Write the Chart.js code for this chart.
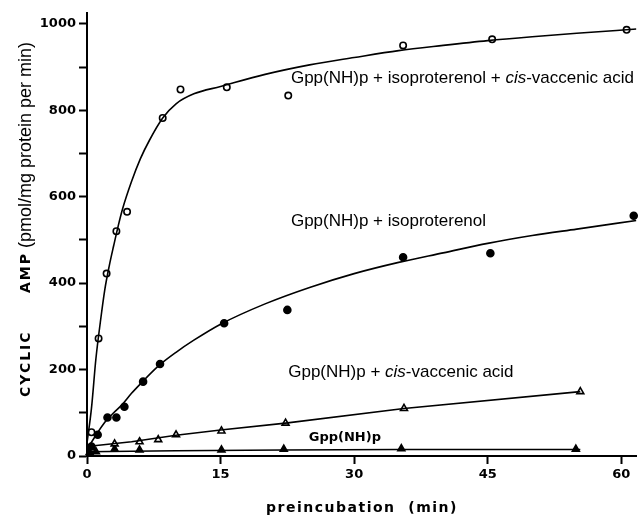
<!DOCTYPE html>
<html><head><meta charset="utf-8">
<script src="https://cdn.jsdelivr.net/npm/chart.js@4.4.1/dist/chart.umd.min.js"></script>
<style>html,body{margin:0;padding:0;background:#fff;}canvas{display:block;}</style>
</head><body>
<canvas id="c" width="642" height="520"></canvas>
<script>
// ---- axis ticks ----
const xTicks = [0, 15, 30, 45, 60];
const yTicks = [0, 100, 200, 300, 400, 500, 600, 700, 800, 900, 1000];
const yLabelEvery = 200;

// ---- measured points ----
// Gpp(NH)p + isoproterenol + cis-vaccenic acid (open circles)
const isoCisTime  = [0.5, 1.3, 2.2, 3.3, 4.5, 8.5, 10.5, 15.7, 22.6, 35.5, 45.5, 60.6];
const isoCisValue = [55, 272, 422, 520, 565, 782, 848, 853, 834, 950, 964, 986];
// Gpp(NH)p + isoproterenol (filled circles)
const isoTime  = [0.5, 1.2, 2.3, 3.3, 4.2, 6.3, 8.2, 15.4, 22.5, 35.5, 45.3, 61.4];
const isoValue = [22, 49, 89, 89, 114, 172, 213, 307, 338, 460, 469, 556];
// Gpp(NH)p + cis-vaccenic acid (open triangles)
const cisTime  = [0.5, 3.1, 5.9, 8.0, 10.0, 15.1, 22.3, 35.6, 55.4];
const cisValue = [20, 28, 33, 38, 49, 58, 76, 110, 149];
// Gpp(NH)p (filled triangles)
const gppTime  = [0.3, 1.0, 3.1, 5.9, 15.1, 22.1, 35.3, 54.9];
const gppValue = [8, 10, 16, 14, 14, 16, 17, 16];

// ---- hand-drawn fitted curves ----
const isoCisCurveTime  = [0, 0.5, 1, 1.5, 2, 2.5, 3, 3.5, 4, 5, 6, 7, 8.5, 10, 12, 15, 20, 25, 30, 35, 40, 45, 50, 55, 61.7];
const isoCisCurveValue = [30, 110, 225, 310, 385, 440, 487, 532, 572, 635, 688, 730, 782, 815, 838, 855, 883, 905, 922, 938, 950, 961, 970, 978, 988];
const isoCurveTime  = [0, 1, 2, 3, 4, 5, 6, 8, 10, 12, 15, 20, 25, 30, 35, 40, 45, 50, 55, 61.7];
const isoCurveValue = [15, 48, 78, 100, 120, 145, 167, 208, 240, 268, 305, 352, 390, 422, 448, 470, 492, 510, 525, 545];
const cisCurveTime  = [0, 5, 10, 15, 22.3, 35.6, 55.4];
const cisCurveValue = [22, 33, 48, 60, 76, 110, 149];
const gppCurveTime  = [0, 10, 22, 35, 55.4];
const gppCurveValue = [10, 12, 14, 15, 15];

// ---- text ----
const annotationTexts = [
  [['Gpp(NH)p + isoproterenol + ', 'normal'], ['cis', 'italic'], ['-vaccenic acid', 'normal']],
  [['Gpp(NH)p + isoproterenol', 'normal']],
  [['Gpp(NH)p + ', 'normal'], ['cis', 'italic'], ['-vaccenic acid', 'normal']],
  [['Gpp(NH)p', 'bold']]
];
const yTitleParts = ['CYCLIC', 'AMP', '(pmol/mg protein per min)'];
const xTitle = 'preincubation  (min)';

const pts = (t, v) => t.map((x, i) => ({x: x, y: v[i]}));

const curve = (t, v, mono) => ({
  data: pts(t, v), showLine: true, pointRadius: 0, borderColor: '#000',
  borderWidth: 1.6, cubicInterpolationMode: mono ? 'monotone' : 'default', tension: 0, fill: false
});
const marks = (t, v, style, filled, r) => ({
  data: pts(t, v), showLine: false, pointStyle: style, pointRadius: r,
  pointBackgroundColor: filled ? '#000' : '#fff', pointBorderColor: '#000',
  pointBorderWidth: 1.6, clip: false
});

const textPlugin = {
  id: 'texts',
  afterDraw(chart) {
    const ctx = chart.ctx, xs = chart.scales.x, ys = chart.scales.y;
    const place = [[22.9, 875], [22.9, 542], [22.6, 194], [24.9, 42]];
    ctx.save();
    ctx.fillStyle = '#000';
    ctx.textBaseline = 'middle';
    ctx.textAlign = 'left';
    annotationTexts.forEach((parts, k) => {
      let px = xs.getPixelForValue(place[k][0]);
      const py = ys.getPixelForValue(place[k][1]);
      parts.forEach(([s, st]) => {
        if (st === 'bold') ctx.font = 'bold 13px "DejaVu Sans"';
        else ctx.font = (st === 'italic' ? 'italic ' : '') + '17px "Liberation Sans"';
        ctx.fillText(s, px, py);
        px += ctx.measureText(s).width;
      });
    });
    // y title (rotated)
    ctx.save();
    ctx.translate(26, 397);
    ctx.rotate(-Math.PI / 2);
    ctx.letterSpacing = '2px';
    ctx.font = 'bold 14px "DejaVu Sans"';
    ctx.fillText(yTitleParts[0], 0, 0);
    ctx.fillText(yTitleParts[1], 397 - 293, 0);
    ctx.letterSpacing = '0px';
    ctx.font = '18px "Liberation Sans"';
    ctx.fillText(yTitleParts[2], 397 - 248, 0);
    ctx.restore();
    // x title
    ctx.letterSpacing = '1.5px';
    ctx.font = 'bold 14px "DejaVu Sans"';
    ctx.textAlign = 'center';
    ctx.fillText(xTitle, 362, 508);
    ctx.restore();
  }
};

const tickFont = {family: 'DejaVu Sans', weight: 'bold', size: 13};

new Chart(document.getElementById('c'), {
  type: 'scatter',
  data: {
    datasets: [
      curve(isoCisCurveTime, isoCisCurveValue, true),
      curve(isoCurveTime, isoCurveValue, true),
      curve(cisCurveTime, cisCurveValue, false),
      curve(gppCurveTime, gppCurveValue, false),
      marks(isoCisTime, isoCisValue, 'circle', false, 3.2),
      marks(isoTime, isoValue, 'circle', true, 3.5),
      marks(cisTime, cisValue, 'triangle', false, 4),
      marks(gppTime, gppValue, 'triangle', true, 4)
    ]
  },
  options: {
    responsive: false, animation: false, devicePixelRatio: 1,
    layout: {padding: {top: 13, right: 0, left: 0, bottom: 0}},
    plugins: {legend: {display: false}, tooltip: {enabled: false}},
    scales: {
      x: {
        type: 'linear', min: 0, max: 61.7,
        afterBuildTicks: s => { s.ticks = xTicks.map(v => ({value: v})); },
        afterFit: s => { s.height = 64; },
        grid: {display: true, drawOnChartArea: false, drawTicks: true, tickLength: 8, tickColor: '#000', tickWidth: 2},
        border: {display: true, color: '#000', width: 2},
        ticks: {font: tickFont, color: '#000', padding: 3, autoSkip: false, maxRotation: 0}
      },
      y: {
        type: 'linear', min: 0, max: 1025,
        afterBuildTicks: s => { s.ticks = yTicks.map(v => ({value: v})); },
        afterFit: s => { s.width = 87; },
        grid: {display: true, drawOnChartArea: false, drawTicks: true, tickLength: 8, tickColor: '#000', tickWidth: 2},
        border: {display: true, color: '#000', width: 2},
        ticks: {font: tickFont, color: '#000', padding: 3, autoSkip: false,
          callback: v => (v % yLabelEvery === 0 ? String(v) : '')}
      }
    }
  },
  plugins: [textPlugin]
});
</script>
</body></html>
